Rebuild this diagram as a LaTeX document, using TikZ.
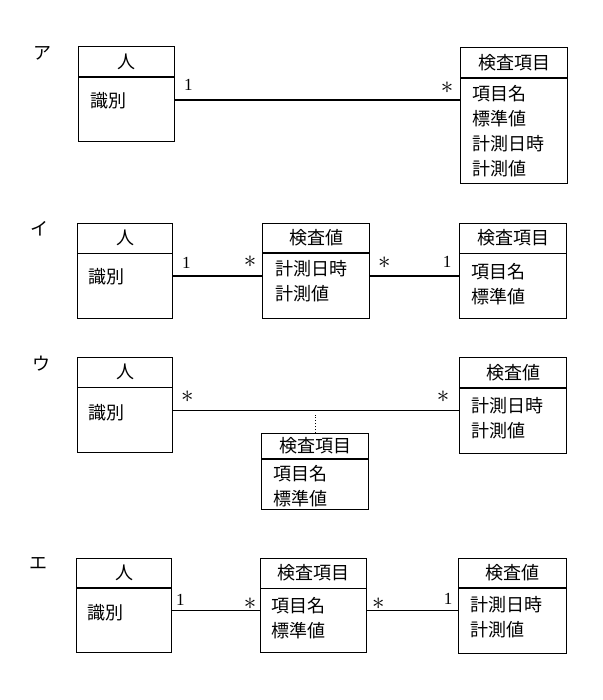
\documentclass[tikz,border=0pt]{standalone}
\usepackage{fontspec}
\setmainfont{Liberation Serif}
\newfontfamily\jpfont{Noto Sans CJK JP}

\begin{document}
\begin{tikzpicture}[x=1pt, y=-1pt,
    cls/.style={draw, line width=1.3pt, anchor=north west, inner sep=0pt},
    hdr/.style={font=\jpfont\fontsize{18}{18}\selectfont},
    attrs/.style={font=\jpfont\fontsize{18}{25}\selectfont, align=left, anchor=north west, inner sep=0pt},
    sep/.style={line width=1.3pt},
    link/.style={line width=1.1pt},
    one/.style={font=\fontsize{17}{17}\selectfont, inner sep=0pt},
    many/.style={font=\fontsize{26}{26}\selectfont, inner sep=0pt},
    tag/.style={font=\jpfont\fontsize{18}{18}\selectfont, inner sep=0pt}]

    \useasboundingbox (0,0) rectangle (602,700);

    % ア
    \node[tag] (tagA) at (42,53) {ア};
    \node[cls, minimum width=96, minimum height=95] (person1) at (78,46) {};
    \node[hdr] (person1t) at ([yshift=-15.5pt]person1.north) {人};
    \draw[sep] ([yshift=-31pt]person1.north west) -- ([yshift=-31pt]person1.north east);
    \node[attrs] (person1a) at ([xshift=12pt, yshift=-46.5pt]person1.north west) {識別};

    \node[cls, minimum width=107, minimum height=136] (item1) at (460,47) {};
    \node[hdr] (item1t) at ([yshift=-15.5pt]item1.north) {検査項目};
    \draw[sep] ([yshift=-31pt]item1.north west) -- ([yshift=-31pt]item1.north east);
    \node[attrs] (item1a) at ([xshift=12.5pt, yshift=-38.5pt]item1.north west) {項目名\\標準値\\計測日時\\計測値};

    \coordinate (row1) at (0,100);
    \draw[link] (person1.east |- row1) -- (item1.west |- row1)
        node[one, at start, xshift=13pt, yshift=15pt] {1}
        node[many, at end, xshift=-13pt, yshift=12pt] {$\ast$};

    % イ
    \node[tag] (tagB) at (39,229) {イ};
    \node[cls, minimum width=95, minimum height=95] (person2) at (77,223) {};
    \node[hdr] (person2t) at ([yshift=-15pt]person2.north) {人};
    \draw[sep] ([yshift=-30.5pt]person2.north west) -- ([yshift=-30.5pt]person2.north east);
    \node[attrs] (person2a) at ([xshift=11pt, yshift=-45.5pt]person2.north west) {識別};

    \node[cls, minimum width=107, minimum height=95] (value2) at (262,223) {};
    \node[hdr] (value2t) at ([yshift=-15pt]value2.north) {検査値};
    \draw[sep] ([yshift=-30pt]value2.north west) -- ([yshift=-30pt]value2.north east);
    \node[attrs] (value2a) at ([xshift=13pt, yshift=-37.5pt]value2.north west) {計測日時\\計測値};

    \node[cls, minimum width=107, minimum height=95] (item2) at (459,223) {};
    \node[hdr] (item2t) at ([yshift=-15pt]item2.north) {検査項目};
    \draw[sep] ([yshift=-30.5pt]item2.north west) -- ([yshift=-30.5pt]item2.north east);
    \node[attrs] (item2a) at ([xshift=12.5pt, yshift=-40pt]item2.north west) {項目名\\標準値};

    \coordinate (row2) at (0,276);
    \draw[link] (person2.east |- row2) -- (value2.west |- row2)
        node[one, at start, xshift=13pt, yshift=13pt] {1}
        node[many, at end, xshift=-12pt, yshift=14pt] {$\ast$};
    \draw[link] (value2.east |- row2) -- (item2.west |- row2)
        node[many, at start, xshift=14pt, yshift=13pt] {$\ast$}
        node[one, at end, xshift=-12pt, yshift=14pt] {1};

    % ウ
    \node[tag] (tagC) at (41,364) {ウ};
    \node[cls, minimum width=95, minimum height=95] (person3) at (77,357) {};
    \node[hdr] (person3t) at ([yshift=-15pt]person3.north) {人};
    \draw[sep] ([yshift=-30.5pt]person3.north west) -- ([yshift=-30.5pt]person3.north east);
    \node[attrs] (person3a) at ([xshift=11pt, yshift=-47pt]person3.north west) {識別};

    \node[cls, minimum width=107, minimum height=96] (value3) at (459,357) {};
    \node[hdr] (value3t) at ([yshift=-15.5pt]value3.north) {検査値};
    \draw[sep] ([yshift=-31pt]value3.north west) -- ([yshift=-31pt]value3.north east);
    \node[attrs] (value3a) at ([xshift=12pt, yshift=-40pt]value3.north west) {計測日時\\計測値};

    \node[cls, minimum width=107, minimum height=76] (item3) at (261,433) {};
    \node[hdr] (item3t) at ([yshift=-13pt]item3.north) {検査項目};
    \draw[sep] ([yshift=-26pt]item3.north west) -- ([yshift=-26pt]item3.north east);
    \node[attrs] (item3a) at ([xshift=12pt, yshift=-32.5pt]item3.north west) {項目名\\標準値};

    \coordinate (row3) at (0,410.5);
    \draw[link] (person3.east |- row3) -- (value3.west |- row3)
        coordinate[pos=0.5] (assoc3)
        node[many, at start, xshift=14pt, yshift=14pt] {$\ast$}
        node[many, at end, xshift=-16pt, yshift=14pt] {$\ast$};
    \draw[dotted, line width=1pt, shorten >=4pt] (item3.north) -- (item3.north |- assoc3);

    % エ
    \node[tag] (tagD) at (38,563) {エ};
    \node[cls, minimum width=95, minimum height=94] (person4) at (76,558) {};
    \node[hdr] (person4t) at ([yshift=-15pt]person4.north) {人};
    \draw[sep] ([yshift=-30pt]person4.north west) -- ([yshift=-30pt]person4.north east);
    \node[attrs] (person4a) at ([xshift=11pt, yshift=-46pt]person4.north west) {識別};

    \node[cls, minimum width=106, minimum height=94] (item4) at (260,558) {};
    \node[hdr] (item4t) at ([yshift=-15pt]item4.north) {検査項目};
    \draw[sep] ([yshift=-30.5pt]item4.north west) -- ([yshift=-30.5pt]item4.north east);
    \node[attrs] (item4a) at ([xshift=11pt, yshift=-39.5pt]item4.north west) {項目名\\標準値};

    \node[cls, minimum width=108, minimum height=95] (value4) at (458,558) {};
    \node[hdr] (value4t) at ([yshift=-15pt]value4.north) {検査値};
    \draw[sep] ([yshift=-30pt]value4.north west) -- ([yshift=-30pt]value4.north east);
    \node[attrs] (value4a) at ([xshift=12pt, yshift=-38.5pt]value4.north west) {計測日時\\計測値};

    \coordinate (row4) at (0,610.5);
    \draw[link] (person4.east |- row4) -- (item4.west |- row4)
        node[one, at start, xshift=8pt, yshift=11pt] {1}
        node[many, at end, xshift=-10pt, yshift=7pt] {$\ast$};
    \draw[link] (item4.east |- row4) -- (value4.west |- row4)
        node[many, at start, xshift=11pt, yshift=7pt] {$\ast$}
        node[one, at end, xshift=-10pt, yshift=12pt] {1};
\end{tikzpicture}
\end{document}
